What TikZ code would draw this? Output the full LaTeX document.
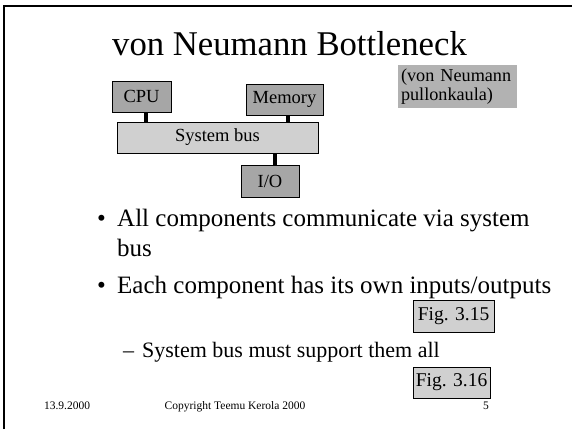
\documentclass[tikz,border=0pt]{standalone}
\usepackage{fontspec}
\setmainfont{Liberation Serif}
\usepackage{tikz}
\usetikzlibrary{positioning}

\definecolor{unitgray}{HTML}{A6A6A6}
\definecolor{busgray}{HTML}{D0D0D0}
\definecolor{notegray}{HTML}{B2B2B2}

\tikzset{
  unit/.style={draw, line width=1pt, fill=unitgray, inner sep=0pt,
    font=\fontsize{18.5}{20}\selectfont},
  busbox/.style={unit, fill=busgray},
  figbox/.style={draw, line width=1pt, fill=busgray, inner sep=0pt,
    font=\fontsize{19.5}{22}\selectfont},
  link/.style={line width=3.5pt},
  item/.style={anchor=base west, inner sep=0pt, font=\fontsize{25}{30}\selectfont},
  subitem/.style={anchor=base west, inner sep=0pt, font=\fontsize{22}{26}\selectfont},
  foot/.style={anchor=base, inner sep=0pt, font=\fontsize{11.5}{13}\selectfont}
}

\begin{document}
\begin{tikzpicture}[x=1pt,y=-1pt]
%%Page
\useasboundingbox (0,0) rectangle (572,429);
\draw[line width=2.5pt] (4,429) -- (4,6) -- (572,6);
%%Title
\node[anchor=base, inner sep=0pt, font=\fontsize{34.7}{40}\selectfont] (title) at (289.5,55) {von Neumann Bottleneck};
\node[fill=notegray, minimum width=119pt, minimum height=43pt, inner xsep=3pt, inner ysep=0pt,
  text width=113pt, align=left, font=\fontsize{18.2}{19.5}\selectfont] (note) at (457.5,86.5)
  {(von Neumann\\pullonkaula)};
%%Units
\node[unit, minimum width=59pt, minimum height=31pt] (cpu) at (141.5,96.5) {CPU};
\node[unit, minimum width=77pt, minimum height=31pt] (mem) at (284.5,99.5) {Memory};
\node[busbox, minimum width=201pt, minimum height=31pt] (bus) at (217.5,137.5) {System bus};
\node[unit, minimum width=58pt, minimum height=32pt] (io) at (270,181) {I/O};
%%Connections
\draw[link] ([xshift=4.5pt]cpu.south) -- ([xshift=4.5pt]cpu.south |- bus.north);
\draw[link] ([xshift=3.5pt]mem.south) -- ([xshift=3.5pt]mem.south |- bus.north);
\draw[link] ([xshift=5pt]io.north) -- ([xshift=5pt]io.north |- bus.south);
%%Bullets
\node[item] (dot1) at (97,226) {\textbullet};
\node[item] (txt1) at (117,226) {All components communicate via system};
\node[item] (txt1b) at (117,256) {bus};
\node[item] (dot2) at (97,293) {\textbullet};
\node[item] (txt2) at (117,293) {Each component has its own inputs/outputs};
\node[subitem] (dash1) at (123,357) {--};
\node[subitem] (txt3) at (142,357) {System bus must support them all};
%%Figure references
\node[figbox, minimum width=81pt, minimum height=32pt] (fig15) at (453.5,316) {Fig. 3.15};
\node[figbox, minimum width=77pt, minimum height=31pt] (fig16) at (451.5,382.5) {Fig. 3.16};
%%Footer
\node[foot] (date) at (67,409) {13.9.2000};
\node[foot] (copy) at (235,409) {Copyright Teemu Kerola 2000};
\node[foot] (page) at (486,409) {5};
\end{tikzpicture}
\end{document}
